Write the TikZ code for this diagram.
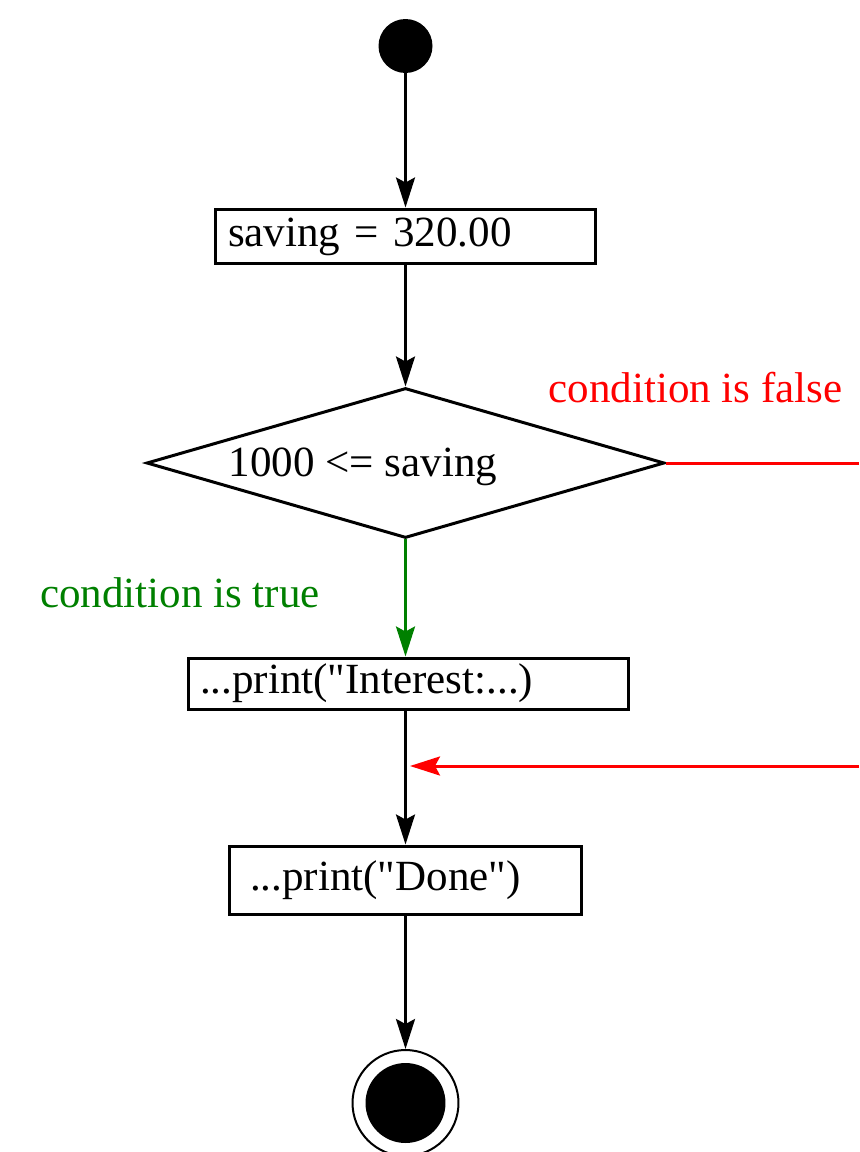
\documentclass[tikz,border=0pt]{standalone}
\usepackage{fontspec}
\setmainfont{Liberation Serif}[Ligatures=TeXOff]
\usepackage{xcolor}
\usetikzlibrary{arrows.meta, shapes.geometric}

\colorlet{colorFalse}{red}
\colorlet{colorTrue}{green!50!black}

\tikzset{
    flow/.style={line width=0.06cm, -{Stealth[length=0.6cm, width=0.38cm, inset=0.1cm]}},
    actbox/.style={draw, line width=0.06cm, rectangle, align=left, inner ysep=0pt},
    decbox/.style={draw, line width=0.06cm, diamond, minimum width=10.36cm, minimum height=3.0cm, inner sep=0pt},
    startdot/.style={circle, fill=black, minimum size=1.08cm, inner sep=0pt},
    enddot/.style={circle, draw, line width=0.04cm, minimum size=2.12cm, inner sep=0pt},
    guard/.style={font=\fontsize{24.5}{29}\selectfont, inner sep=0pt}
}

\begin{document}
\begin{tikzpicture}[x=0.02cm, y=-0.02cm, font=\fontsize{24.5}{29}\selectfont]
    % --- FRAME ---
    \useasboundingbox (0,0) rectangle (859,1152);

    % --- NODES ---
    \node[startdot] (start) at (405.5,46) {};
    \node[actbox, text width=7.1cm, inner xsep=0.26cm, minimum height=1.1cm] (saving) at (405.5,236.5) {saving = 320.00};
    \node[decbox] (cond) at (405.5,463) {};
    \node[guard] (condtext) at (363,467) {1000 <= saving};
    \node[actbox, text width=8.34cm, inner xsep=0.24cm, minimum height=1.02cm] (interest) at (408.5,683.5) {...print("Interest:...)};
    \node[actbox, text width=6.22cm, inner xsep=0.42cm, minimum height=1.36cm] (done) at (405.5,880) {...print("Done")};
    \node[enddot] (stop) at (405.5,1103) {};
    \fill (stop.center) circle (0.8cm);

    % --- GUARD LABELS ---
    \node[guard, colorFalse] (falselabel) at (695.5,388) {condition is false};
    \node[guard, colorTrue] (truelabel) at (180,593) {condition is true};

    % --- CONNECTORS ---
    \coordinate (falseout) at (859,466);
    \coordinate (falsein) at (859,766);
    \coordinate (merge) at (410,766);

    \draw[flow] (start) -- (saving);
    \draw[flow] (saving) -- (cond.north);
    \draw[flow, colorTrue] (cond.south) -- (cond.south |- interest.north);
    \draw[line width=0.06cm, colorFalse] (cond.east) -- (cond.east -| falseout);
    \draw[flow] (cond.south |- interest.south) -- (done.north);
    \draw[flow, colorFalse] (falsein) -- (merge);
    \draw[flow] (done) -- (stop);

\end{tikzpicture}
\end{document}
